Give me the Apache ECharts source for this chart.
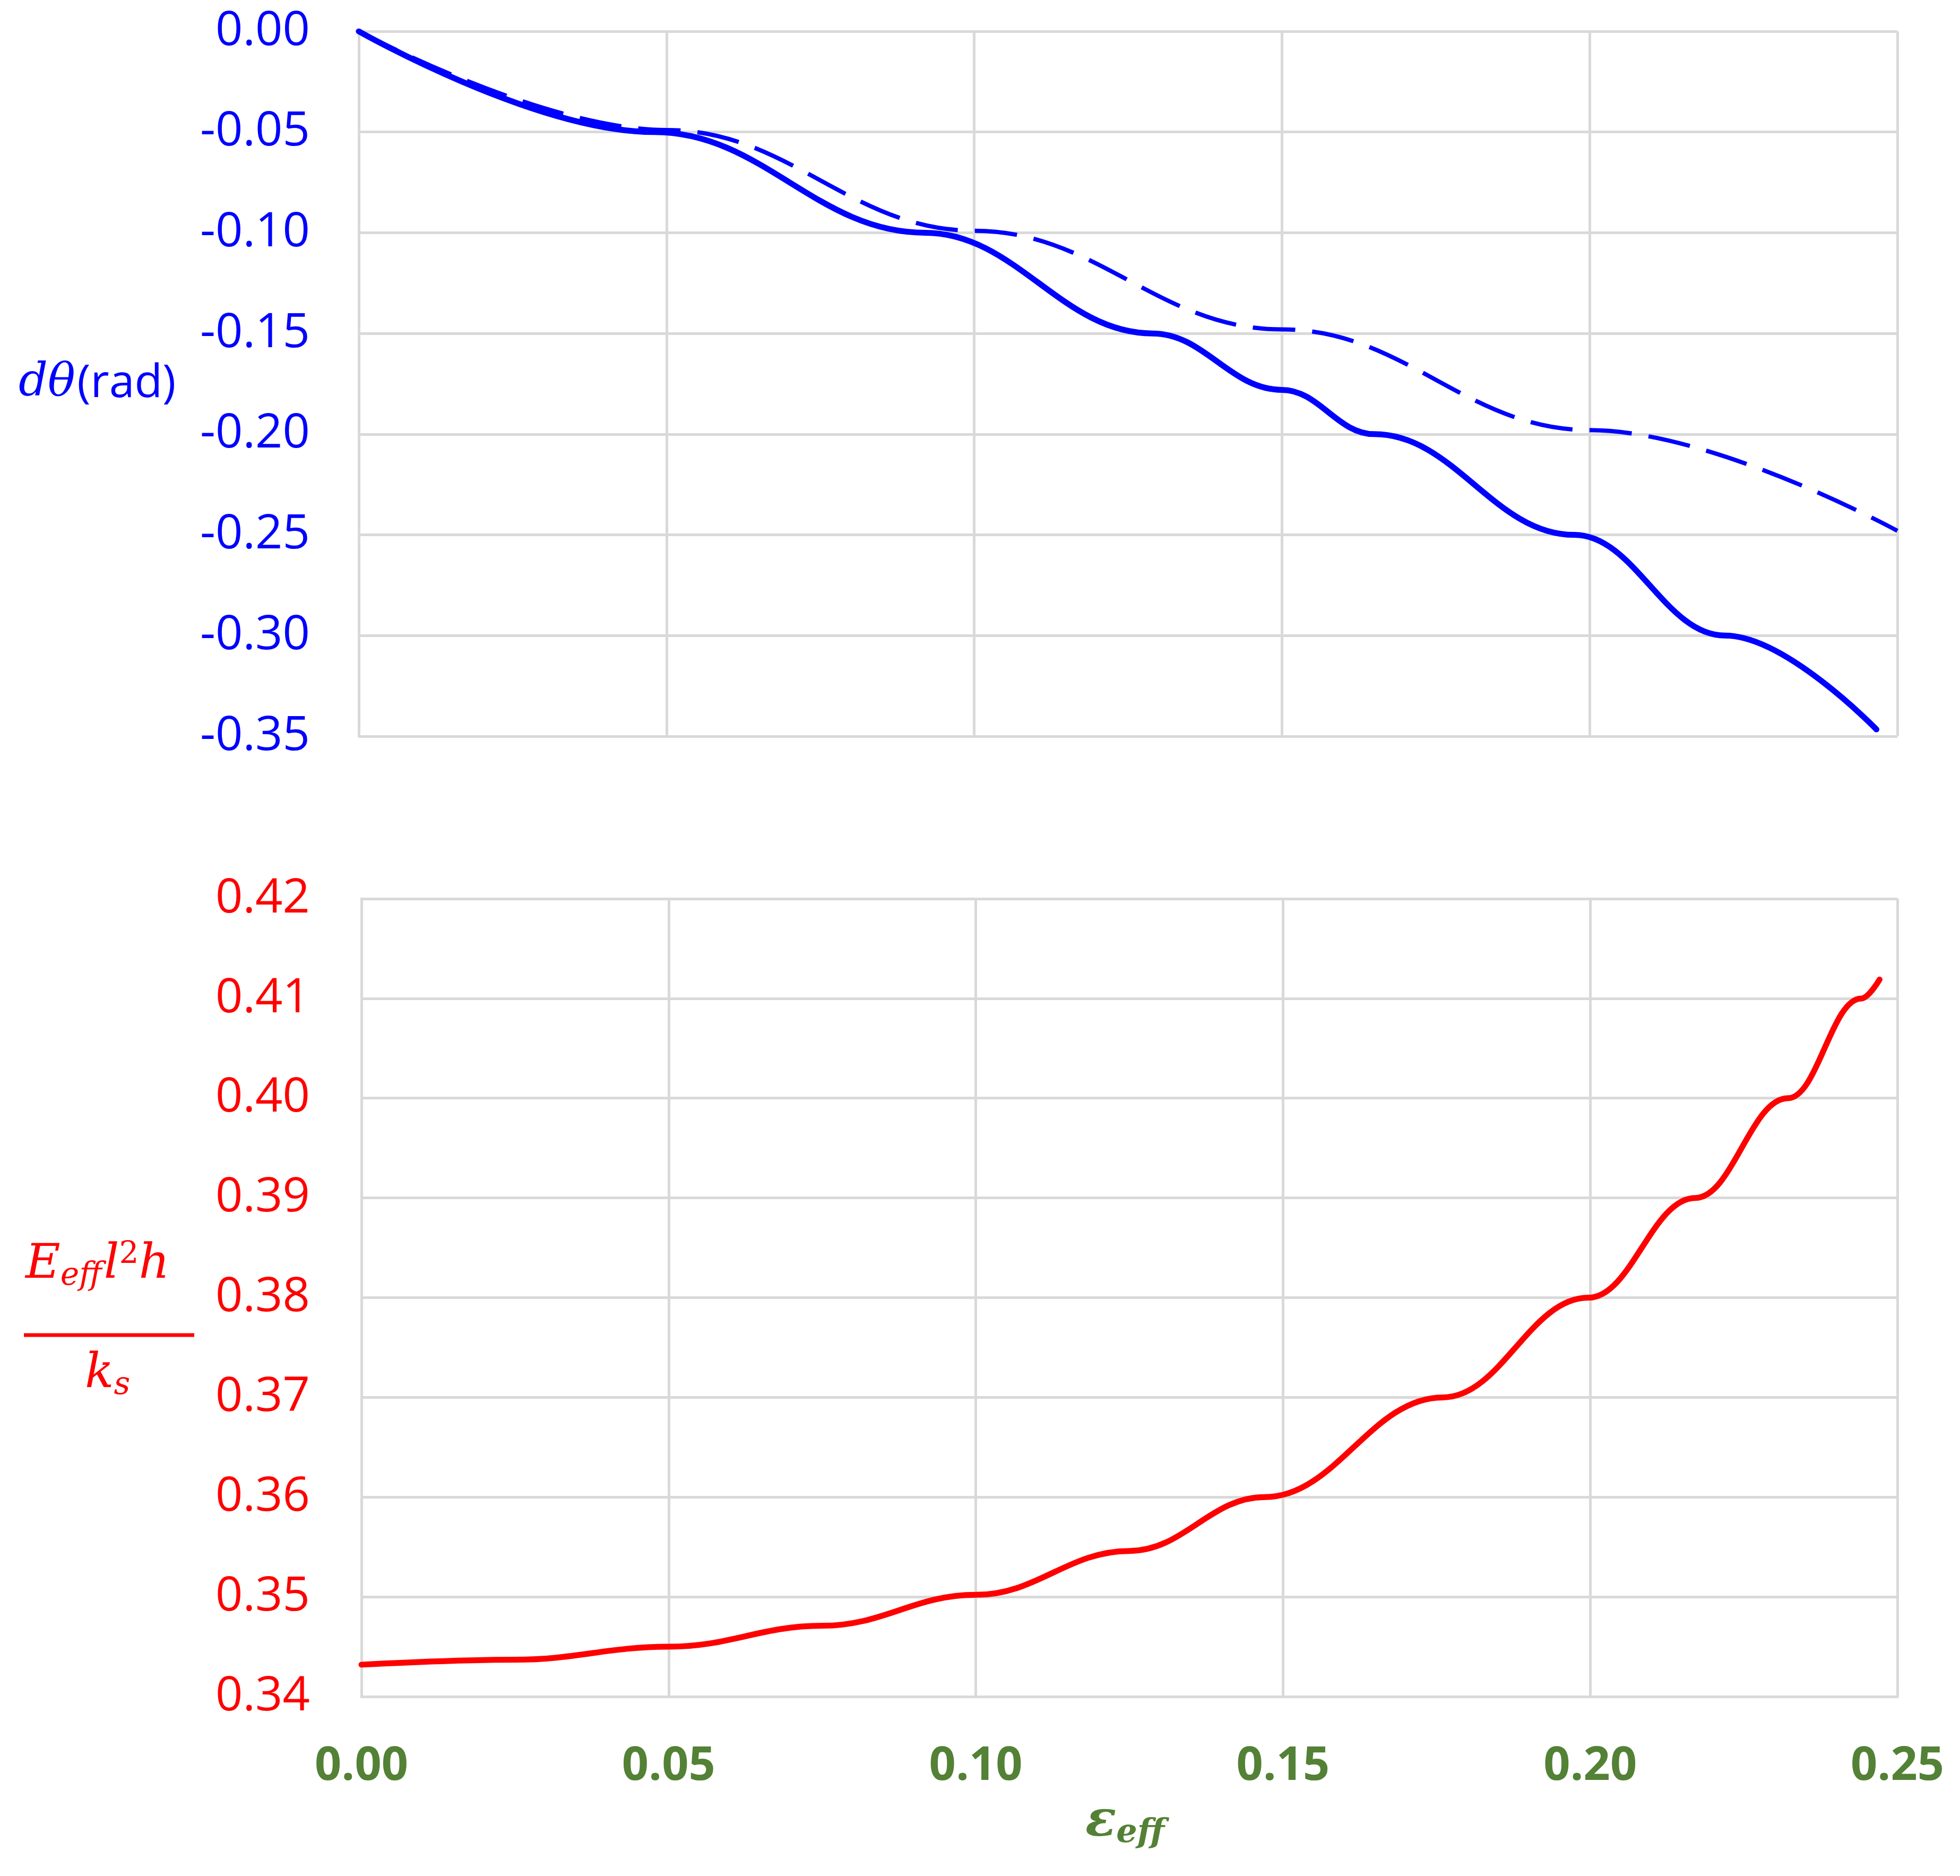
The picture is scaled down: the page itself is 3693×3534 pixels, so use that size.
<!DOCTYPE html>
<html><head><meta charset="utf-8">
<script src="https://cdn.jsdelivr.net/npm/echarts@6/dist/echarts.min.js"></script>
<style>html,body{margin:0;padding:0;background:#fff}#c{width:3693px;height:3534px}</style>
</head><body><div id="c"></div>
<script>
const xTicks = [0, 0.05, 0.10, 0.15, 0.20, 0.25];
const solidTheta = [[0,0],[0.048,-0.05],[0.092,-0.10],[0.129,-0.15],[0.15,-0.178],[0.165,-0.20],[0.1975,-0.25],[0.222,-0.30],[0.2466,-0.3466]];
const dashedTheta = [[0,0],[0.05,-0.049],[0.10,-0.099],[0.15,-0.148],[0.20,-0.198],[0.25,-0.248]];
const energy = [[0,0.3432],[0.025,0.3437],[0.05,0.3450],[0.075,0.3471],[0.1,0.3502],[0.125,0.3546],[0.147,0.3600],[0.176,0.3700],[0.1997,0.3800],[0.2171,0.3900],[0.2322,0.4000],[0.2441,0.4100],[0.2471,0.4119]];
const F = "'Open Sans', 'Liberation Sans', sans-serif";
const M = "'DejaVu Serif', serif";
const gridLine = {show:true,lineStyle:{color:'#d9d9d9',width:5}};
const chart = echarts.init(document.getElementById('c'));
chart.setOption({
  animation:false,
  grid:[{left:676,right:118,top:59,height:1328},{left:681,right:118,top:1693,bottom:338}],
  xAxis:[
    {gridIndex:0,type:'value',min:0,max:0.25,interval:0.05,axisLabel:{show:false},
     axisLine:{show:false},axisTick:{show:true,length:61,lineStyle:{color:'#d9d9d9',width:5}},splitLine:gridLine},
    {gridIndex:1,type:'value',min:0,max:0.25,interval:0.05,
     axisLabel:{color:'#538135',fontWeight:'bold',fontSize:88,fontFamily:F,margin:88,formatter:v=>v.toFixed(2)},
     axisLine:{show:true,lineStyle:{color:'#d9d9d9',width:5}},axisTick:{show:false},splitLine:gridLine}
  ],
  yAxis:[
    {gridIndex:0,type:'value',min:-0.35,max:0,interval:0.05,
     axisLabel:{color:'#0000ff',fontSize:90,fontFamily:F,margin:92,formatter:v=>v.toFixed(2)},
     axisLine:{show:true,lineStyle:{color:'#d9d9d9',width:5}},axisTick:{show:false},splitLine:gridLine},
    {gridIndex:1,type:'value',min:0.34,max:0.42,interval:0.01,
     axisLabel:{color:'#ff0000',fontSize:90,fontFamily:F,margin:97,formatter:v=>v.toFixed(2)},
     axisLine:{show:true,lineStyle:{color:'#d9d9d9',width:5}},axisTick:{show:false},splitLine:gridLine}
  ],
  series:[
    {type:'line',xAxisIndex:0,yAxisIndex:0,data:dashedTheta,smooth:0.4,smoothMonotone:'x',showSymbol:false,lineStyle:{color:'#0000ff',width:8,type:[80,32]}},
    {type:'line',xAxisIndex:0,yAxisIndex:0,data:solidTheta,smooth:0.4,smoothMonotone:'x',showSymbol:false,lineStyle:{color:'#0000ff',width:11,cap:'round'}},
    {type:'line',xAxisIndex:1,yAxisIndex:1,data:energy,smooth:0.4,smoothMonotone:'x',showSymbol:false,lineStyle:{color:'#ff0000',width:11,cap:'round'}}
  ],
  graphic:[
    {type:'text',left:35,top:680,style:{rich:{i:{fontStyle:'italic',fontFamily:M,fontSize:86,fill:'#0000ff'},n:{fontFamily:F,fontSize:86,fill:'#0000ff'}},text:'{i|dθ} {n|(rad)}'}},
    {type:'text',left:48,top:2335,style:{rich:{i:{fontStyle:'italic',fontFamily:M,fontSize:90,fill:'#ff0000'},s:{fontStyle:'italic',fontFamily:M,fontSize:60,fill:'#ff0000',padding:[40,4,0,0]},p:{fontFamily:M,fontSize:58,fill:'#ff0000',padding:[0,0,40,0]}},text:'{i|E}{s|eff}{i|l}{p|2}{i|h}'}},
    {type:'line',shape:{x1:45,y1:2515,x2:366,y2:2515},style:{stroke:'#ff0000',lineWidth:7}},
    {type:'text',left:160,top:2545,style:{rich:{i:{fontStyle:'italic',fontFamily:M,fontSize:90,fill:'#ff0000'},s:{fontStyle:'italic',fontFamily:M,fontSize:60,fill:'#ff0000',padding:[40,0,0,0]}},text:'{i|k}{s|s}'}},
    {type:'text',left:2045,top:3385,style:{rich:{i:{fontStyle:'italic',fontWeight:'bold',fontFamily:M,fontSize:96,fill:'#538135'},s:{fontStyle:'italic',fontWeight:'bold',fontFamily:M,fontSize:62,fill:'#538135',padding:[42,0,0,0]}},text:'{i|ε}{s|eff}'}}
  ]
});
</script></body></html>
